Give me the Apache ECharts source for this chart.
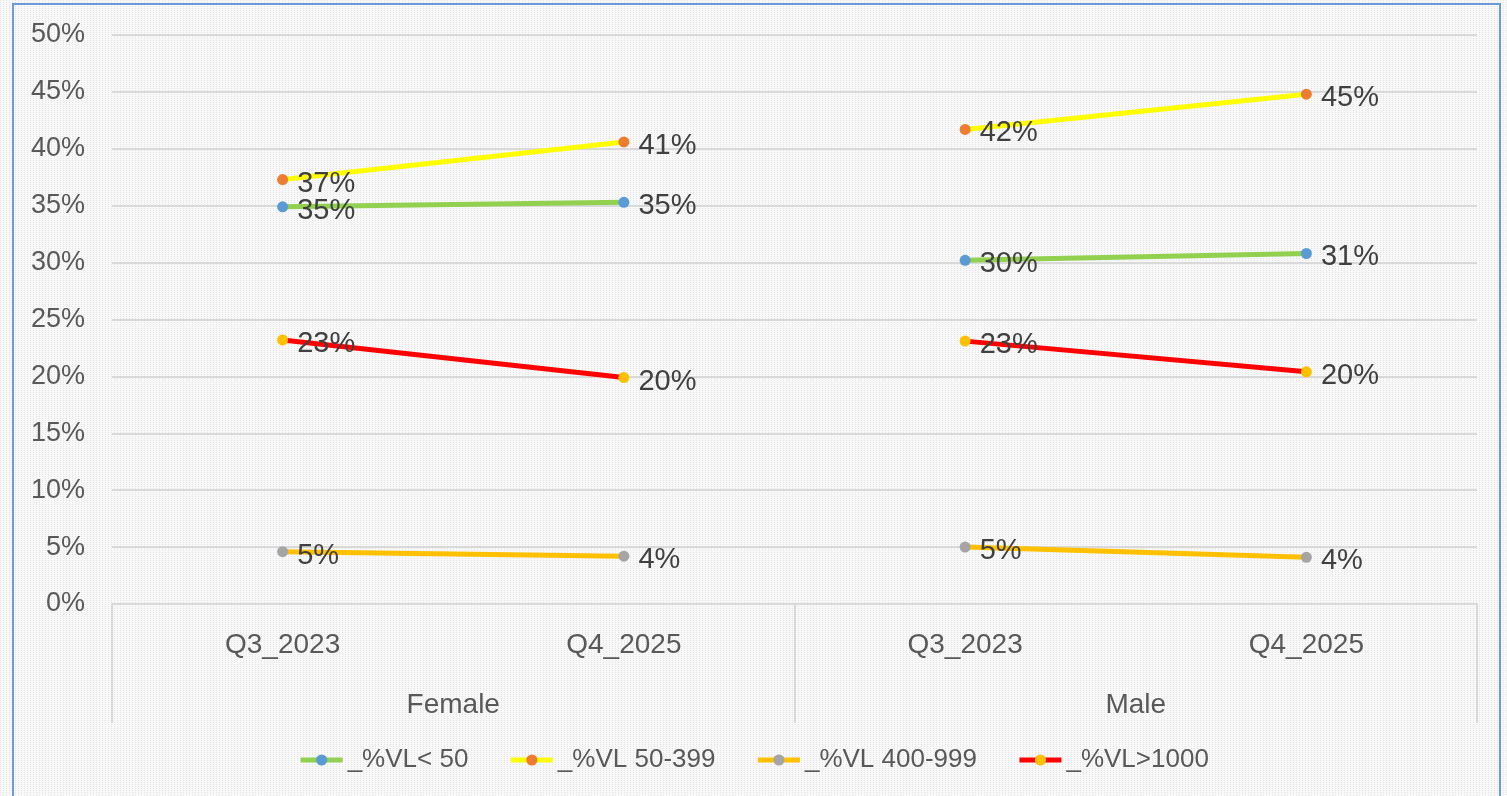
<!DOCTYPE html>
<html>
<head>
<meta charset="utf-8">
<style>
  html, body { margin: 0; padding: 0; background: #f3f3f3; }
  #main { width: 1507px; height: 796px; }
</style>
<script src="https://cdn.jsdelivr.net/npm/echarts@6/dist/echarts.min.js"></script>
</head>
<body>
<div id="main"></div>
<script>
const chart = echarts.init(document.querySelector('#main'))

const CATEGORIES = ['Q3_2023', 'Q4_2025', 'Q3_2023', 'Q4_2025']
const GROUPS = ['Female', 'Male']

const VL_UNDER_50 = [0.349, 0.353, 0.302, 0.308]
const VL_50_399 = [0.373, 0.406, 0.417, 0.448]
const VL_400_999 = [0.046, 0.042, 0.050, 0.041]
const VL_OVER_1000 = [0.232, 0.199, 0.231, 0.204]

const METRICS = [
  { name: '_%VL< 50', values: VL_UNDER_50, line: '#92d050', dot: '#5b9bd5' },
  { name: '_%VL 50-399', values: VL_50_399, line: '#ffff00', dot: '#ed7d31' },
  { name: '_%VL 400-999', values: VL_400_999, line: '#ffc000', dot: '#a5a5a5' },
  { name: '_%VL>1000', values: VL_OVER_1000, line: '#ff0000', dot: '#ffc000' }
]

const FONT = 'Liberation Sans'
const GRID_COLOR = '#d9d9d9'

// dotted backdrop like the excel pattern fill
const tile = document.createElement('canvas')
tile.width = 3
tile.height = 2
const tctx = tile.getContext('2d')
tctx.fillStyle = '#f8f8f8'
tctx.fillRect(0, 0, 3, 2)
tctx.fillStyle = '#e4e4e4'
tctx.fillRect(0, 0, 1, 1)

function pct (v) {
  return Math.round(v * 100) + '%'
}

// one series per group so the line breaks between Female and Male
function groupData (values, g) {
  return values.map((v, i) => Math.floor(i / 2) === g ? v : '-')
}

let series = []
for (let m of METRICS) {
  for (let g = 0; g < GROUPS.length; g++) {
    series.push({
      name: m.name,
      type: 'line',
      data: groupData(m.values, g),
      symbol: 'circle',
      symbolSize: 11,
      lineStyle: { color: m.line, width: 5 },
      itemStyle: { color: m.dot },
      label: {
        show: true,
        position: 'right',
        distance: 9,
        offset: [0, 4],
        fontFamily: FONT,
        fontSize: 29,
        color: '#404040',
        formatter: p => pct(p.value)
      },
      animation: false
    })
  }
}

chart.setOption({
  backgroundColor: { image: tile, repeat: 'repeat' },
  animation: false,
  graphic: [
    {
      type: 'rect',
      shape: { x: 13, y: 4, width: 1487, height: 810 },
      style: { fill: 'none', stroke: '#6b9bd6', lineWidth: 2 },
      silent: true
    }
  ],
  grid: { left: 112, right: 30, top: 35, bottom: 192 },
  legend: {
    bottom: 18,
    left: 'center',
    itemWidth: 42,
    itemHeight: 14,
    itemGap: 40,
    lineStyle: { width: 5 },
    textStyle: { fontFamily: FONT, fontSize: 26, color: '#595959' },
    data: METRICS.map(m => m.name)
  },
  xAxis: [
    {
      type: 'category',
      data: CATEGORIES,
      axisLine: { show: true, lineStyle: { color: GRID_COLOR, width: 2 } },
      axisTick: { show: false },
      axisLabel: { margin: 27, fontFamily: FONT, fontSize: 28, color: '#595959', interval: 0 }
    },
    {
      type: 'category',
      position: 'bottom',
      data: GROUPS,
      axisLine: { show: false },
      axisTick: { show: true, length: 119, lineStyle: { color: GRID_COLOR, width: 2 } },
      axisLabel: { margin: 87, fontFamily: FONT, fontSize: 28, color: '#595959' }
    }
  ],
  yAxis: {
    type: 'value',
    min: 0,
    max: 0.5,
    interval: 0.05,
    axisLine: { show: false },
    axisTick: { show: false },
    axisLabel: { margin: 27, fontFamily: FONT, fontSize: 27, color: '#595959', formatter: v => pct(v) },
    splitLine: { lineStyle: { color: GRID_COLOR, width: 2 } }
  },
  series: series
})
</script>
</body>
</html>
